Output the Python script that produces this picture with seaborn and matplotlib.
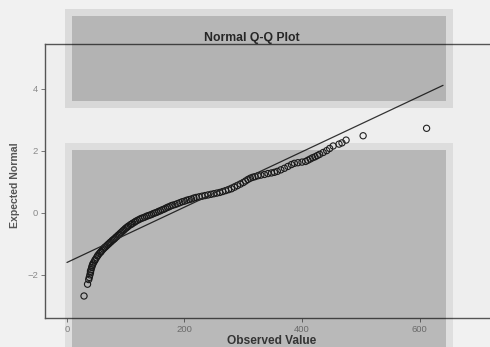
import matplotlib
matplotlib.use("Agg")
import matplotlib.pyplot as plt
from matplotlib.patches import Rectangle
import numpy as np
import pandas as pd
import seaborn as sns

# ---- data ----
observed = [29, 35, 37, 38, 39, 40, 40, 41, 42, 43, 44, 45, 47, 48, 50, 52, 53, 55, 57, 58,
            60, 62, 64, 65, 67, 69, 71, 73, 75, 77, 79, 81, 83, 85, 87, 89, 91, 93, 95, 97,
            99, 101, 103, 105, 108, 110, 112, 115, 117, 120, 123, 126, 129, 132, 135, 138,
            141, 144, 147, 150, 153, 156, 159, 162, 165, 168, 171, 174, 177, 180, 184, 188,
            192, 196, 200, 204, 208, 212, 216, 220, 225, 230, 235, 240, 245, 250, 255, 260,
            265, 270, 275, 280, 285, 290, 295, 300, 304, 308, 312, 316, 320, 325, 330, 336,
            342, 348, 353, 358, 364, 370, 376, 382, 387, 393, 400, 406, 410, 414, 418, 422,
            426, 430, 436, 442, 447, 453, 463, 468, 475, 504, 612]
expected = [-2.68, -2.30, -2.15, -2.08, -2.00, -1.93, -1.88, -1.83, -1.76, -1.70, -1.65, -1.61,
            -1.55, -1.51, -1.45, -1.39, -1.36, -1.31, -1.27, -1.25, -1.20, -1.16, -1.12, -1.10,
            -1.07, -1.03, -1.00, -0.96, -0.93, -0.89, -0.86, -0.83, -0.79, -0.76, -0.72, -0.69,
            -0.65, -0.62, -0.58, -0.55, -0.51, -0.48, -0.45, -0.42, -0.38, -0.36, -0.33, -0.30,
            -0.27, -0.24, -0.21, -0.18, -0.16, -0.14, -0.11, -0.09, -0.07, -0.05, -0.02, 0.00,
            0.02, 0.05, 0.07, 0.10, 0.12, 0.15, 0.18, 0.20, 0.23, 0.25, 0.27, 0.30, 0.33, 0.36,
            0.38, 0.41, 0.43, 0.45, 0.48, 0.50, 0.52, 0.54, 0.56, 0.58, 0.60, 0.62, 0.64, 0.66,
            0.69, 0.72, 0.75, 0.78, 0.83, 0.88, 0.93, 0.98, 1.03, 1.08, 1.12, 1.15, 1.17, 1.20,
            1.22, 1.24, 1.27, 1.29, 1.31, 1.34, 1.39, 1.44, 1.50, 1.56, 1.60, 1.62, 1.64, 1.66,
            1.70, 1.74, 1.78, 1.81, 1.85, 1.89, 1.95, 2.01, 2.08, 2.16, 2.22, 2.26, 2.35, 2.49,
            2.73]
ref_mean = 179.0
ref_sd = 112.0
ref_x = [0, 640]
x_ticks = [0, 200, 400, 600]
y_ticks = [-2, 0, 2, 4]
title = "Normal Q-Q Plot"
xlabel = "Observed Value"
ylabel = "Expected Normal"

df = pd.DataFrame({"Observed Value": observed, "Expected Normal": expected})
line_df = pd.DataFrame({"x": ref_x,
                        "y": [(v - ref_mean) / ref_sd for v in ref_x]})

sns.set_style("white")
plt.rcParams["font.family"] = ["Liberation Sans", "DejaVu Sans"]

W, H = 490, 347
fig = plt.figure(figsize=(W / 100, H / 100), dpi=100, facecolor="#f1f1f1")

def px(x0, y0, x1, y1):
    return [x0 / W, 1 - y1 / H, (x1 - x0) / W, (y1 - y0) / H]

ax = fig.add_axes(px(45, 44, 530, 318))
ax.set_facecolor("#eeeeee")

sns.lineplot(data=line_df, x="x", y="y", ax=ax, color="#333333", linewidth=0.9)
sns.scatterplot(data=df, x="Observed Value", y="Expected Normal", ax=ax,
                s=20, facecolor="none", edgecolor="#222222", linewidth=0.8)

ax.set_xlim(-37.4, 788)
ax.set_ylim(-3.39, 5.45)
ax.set_xticks(x_ticks)
ax.set_yticks(y_ticks)
ax.tick_params(axis="both", direction="out", length=3, width=0.7, colors="#777777",
               labelsize=6.8, labelcolor="#8a8a8a", pad=2)
ax.tick_params(left=True, bottom=True)
ax.set_xlabel("")
ax.set_ylabel("")
for s in ["left", "bottom", "top"]:
    ax.spines[s].set_color("#555555")
    ax.spines[s].set_linewidth(1.0)
    ax.spines[s].set_visible(True)
ax.spines["right"].set_visible(False)

fig.text(252 / W, 1 - 38 / H, title, ha="center", va="center", fontsize=8.8,
         fontweight="bold", color="#333333")
fig.text(272 / W, 1 - 341 / H, xlabel, ha="center", va="center", fontsize=8.6,
         fontweight="bold", color="#444444")
fig.text(15 / W, 1 - 185 / H, ylabel, ha="center", va="center", rotation=90,
         fontsize=7.6, fontweight="bold", color="#555555")

# translucent grey panels overlaid on the picture
for (x0, y0, x1, y1, a) in [(65, 9, 453, 108, 0.09), (72, 16, 446, 101, 0.17),
                            (65, 143, 453, 360, 0.07), (72, 150, 446, 360, 0.17)]:
    b = px(x0, y0, x1, y1)
    fig.add_artist(Rectangle((b[0], b[1]), b[2], b[3], transform=fig.transFigure,
                             facecolor="black", edgecolor="none", alpha=a, zorder=5))

fig.savefig("out.png", dpi=100, facecolor=fig.get_facecolor())
